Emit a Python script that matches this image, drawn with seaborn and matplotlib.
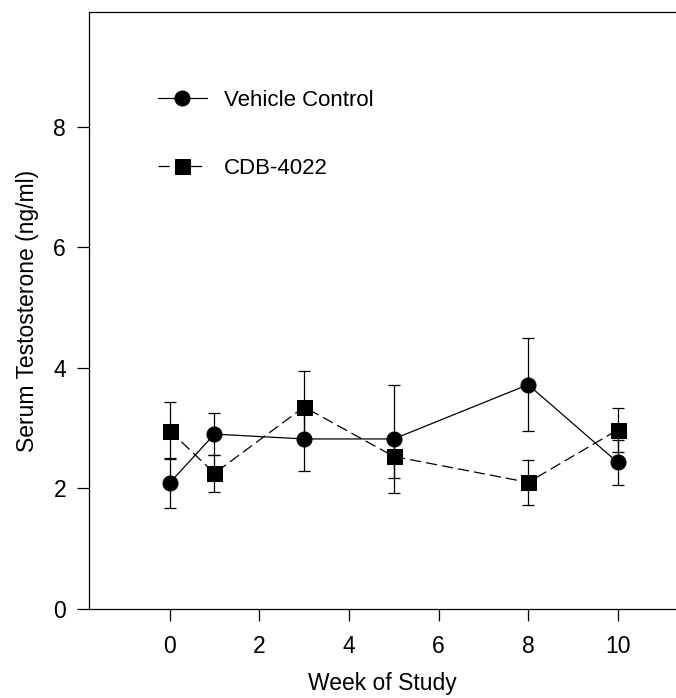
import pandas as pd
import numpy as np
import matplotlib
matplotlib.use("Agg")
import matplotlib.pyplot as plt
import seaborn as sns

sns.set_theme(style="ticks")
plt.rcParams["font.family"] = ["Liberation Sans", "DejaVu Sans"]
plt.rcParams["text.color"] = "black"
plt.rcParams["axes.labelcolor"] = "black"
plt.rcParams["xtick.color"] = "black"
plt.rcParams["ytick.color"] = "black"

weeks = [0, 1, 3, 5, 8, 10]
vehicle_mean = [2.09, 2.90, 2.82, 2.82, 3.72, 2.43]
vehicle_err = [0.42, 0.35, 0.53, 0.90, 0.77, 0.37]
cdb_mean = [2.96, 2.25, 3.35, 2.53, 2.10, 2.97]
cdb_err = [0.48, 0.31, 0.59, 0.36, 0.37, 0.36]
groups = ["Vehicle Control", "CDB-4022"]

df = pd.DataFrame({
    "week": weeks * 2,
    "value": vehicle_mean + cdb_mean,
    "err": vehicle_err + cdb_err,
    "group": [groups[0]] * len(weeks) + [groups[1]] * len(weeks),
})

fig = plt.figure(figsize=(6.76, 6.98), dpi=100)
ax = fig.add_axes([89 / 676, 89 / 698, 587 / 676, 597 / 698])

# error bars first, markers on top
for g in groups:
    sub = df[df["group"] == g]
    ax.errorbar(sub["week"], sub["value"], yerr=sub["err"], fmt="none",
                ecolor="black", elinewidth=0.9, capsize=4.5, capthick=0.9, zorder=2)

sns.lineplot(
    data=df, x="week", y="value", hue="group", style="group",
    palette={groups[0]: "black", groups[1]: "black"},
    markers={groups[0]: "o", groups[1]: "s"},
    dashes={groups[0]: "", groups[1]: (9, 4)},
    linewidth=0.9, markersize=10.8, markeredgecolor="black",
    ax=ax, zorder=3,
)

ax.set_xlim(-1.8, 11.3)
ax.set_ylim(0, 9.9)
ax.set_xticks([0, 2, 4, 6, 8, 10])
ax.set_yticks([0, 2, 4, 6, 8])
ax.set_xlabel("Week of Study", fontsize=16.5, labelpad=10)
ax.set_ylabel("Serum Testosterone (ng/ml)", fontsize=16.5, labelpad=10)
ax.tick_params(axis="both", labelsize=16.5, width=0.9, length=8.5, color="black")
ax.tick_params(axis="x", pad=10)
ax.tick_params(axis="y", pad=8)
for s in ["left", "bottom", "top"]:
    ax.spines[s].set_linewidth(0.9)
    ax.spines[s].set_color("black")
ax.spines["right"].set_visible(False)

leg = ax.legend(
    loc="upper left", bbox_to_anchor=(158 / 676, 1 - 90 / 698),
    bbox_transform=fig.transFigure, frameon=False, fontsize=16,
    borderpad=0, borderaxespad=0, handlelength=2.2, handletextpad=0.75,
    labelspacing=2.1, title=None,
)

fig.savefig("out.png", dpi=100)
